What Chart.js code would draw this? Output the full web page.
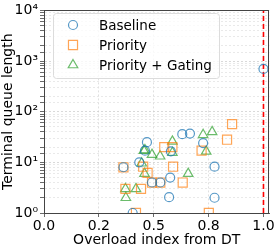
<!DOCTYPE html>
<html>
<head>
<meta charset="utf-8">
<script src="https://cdn.jsdelivr.net/npm/chart.js@4"></script>
<style>
  html, body { margin: 0; padding: 0; background: #fff; }
  #wrap { width: 277px; height: 249px; }
</style>
</head>
<body>
<div id="wrap"><canvas id="chart"></canvas></div>
<script>
// values
let baselineX = [1.0, 0.469, 0.46, 0.434, 0.63, 0.665, 0.725, 0.578, 0.575, 0.57, 0.777, 0.777, 0.492, 0.53, 0.362, 0.404];
let baselineY = [700, 25, 17, 10, 36, 37, 24, 16.5, 5, 2.05, 8.2, 2, 4, 4, 8, 1];

let priorityX = [0.857, 0.834, 0.718, 0.548, 0.585, 0.588, 0.452, 0.472, 0.362, 0.492, 0.53, 0.632, 0.371, 0.442, 0.419, 0.751];
let priorityY = [57, 28, 17, 20, 20, 8.2, 8.2, 6.2, 8, 4, 4, 4, 3, 3, 1, 1];

let gatingX = [0.766, 0.725, 0.739, 0.585, 0.585, 0.455, 0.46, 0.492, 0.529, 0.445, 0.458, 0.657, 0.371, 0.419, 0.373];
let gatingY = [40, 35, 16.5, 26, 15.5, 17, 17.5, 14.2, 13.2, 9.6, 6, 6, 3, 3, 2];

let dtLineX = [1.0, 1.0];
let dtLineY = [1, 10000];

let xTickValues = [0, 0.25, 0.5, 0.75, 1.0];
let xTickLabels = ['0.0', '0.2', '0.5', '0.8', '1.0'];
let yTickLabels = { 1: '10⁰', 10: '10¹', 100: '10²', 1000: '10³', 10000: '10⁴' };

const FONT = 'DejaVu Sans';

function toPoints(xs, ys) {
    return xs.map((x, i) => ({ x: x, y: ys[i] }));
}

function isDecade(v) {
    let l = Math.log10(v);
    return Math.abs(l - Math.round(l)) < 1e-9;
}

// legend box + plot frame, drawn like matplotlib
const framePlugin = {
    id: 'frame',
    afterDraw(chart) {
        const ctx = chart.ctx;
        const a = chart.chartArea;
        ctx.save();
        ctx.strokeStyle = '#444';
        ctx.lineWidth = 1;
        ctx.strokeRect(Math.round(a.left) + 0.5, Math.round(a.top) + 0.5,
            Math.round(a.right - a.left) - 1, Math.round(a.bottom - a.top));

        // legend
        const lx = 53, ly = 13, lw = 166, lh = 65;
        ctx.beginPath();
        ctx.roundRect(lx + 0.5, ly + 0.5, lw, lh, 3);
        ctx.fillStyle = 'rgba(255,255,255,0.8)';
        ctx.fill();
        ctx.strokeStyle = '#dcdcdc';
        ctx.stroke();

        const names = ['Baseline', 'Priority', 'Priority + Gating'];
        ctx.font = '13.5px "' + FONT + '"';
        ctx.textBaseline = 'middle';
        for (let i = 0; i < 3; i++) {
            const ds = chart.data.datasets[i];
            const y = 25 + i * 20;
            ctx.strokeStyle = ds.borderColor;
            ctx.fillStyle = 'rgba(0,0,0,0)';
            ctx.lineWidth = ds.borderWidth;
            Chart.helpers.drawPoint(ctx, {
                pointStyle: ds.pointStyle,
                radius: ds.pointRadius,
                rotation: 0,
                borderWidth: ds.borderWidth
            }, 73, y);
            ctx.fillStyle = '#000';
            ctx.fillText(names[i], 99, y + 1);
        }
        ctx.restore();
    }
};

const ctx = document.getElementById('chart').getContext('2d');
const chart = new Chart(ctx, {
    type: 'scatter',
    data: {
        datasets: [
            {
                label: 'Baseline',
                data: toPoints(baselineX, baselineY),
                pointStyle: 'circle',
                pointRadius: 4.5,
                borderColor: 'rgba(31,119,180,0.75)',
                backgroundColor: 'rgba(0,0,0,0)',
                borderWidth: 1.2,
                clip: 0
            },
            {
                label: 'Priority',
                data: toPoints(priorityX, priorityY),
                pointStyle: 'rect',
                pointRadius: 6.4,
                borderColor: 'rgba(255,127,14,0.7)',
                backgroundColor: 'rgba(0,0,0,0)',
                borderWidth: 1.2,
                clip: 0
            },
            {
                label: 'Priority + Gating',
                data: toPoints(gatingX, gatingY),
                pointStyle: 'triangle',
                pointRadius: 5.5,
                borderColor: 'rgba(44,160,44,0.7)',
                backgroundColor: 'rgba(0,0,0,0)',
                borderWidth: 1.2,
                clip: 0
            },
            {
                type: 'line',
                label: 'DT',
                data: toPoints(dtLineX, dtLineY),
                borderColor: '#ff0000',
                borderDash: [5, 3],
                borderWidth: 1.6,
                pointRadius: 0,
                showLine: true,
                clip: 0
            }
        ]
    },
    options: {
        responsive: true,
        maintainAspectRatio: false,
        animation: false,
        events: [],
        layout: { padding: { top: 7, right: 6, left: 0, bottom: 0 } },
        plugins: {
            legend: { display: false },
            tooltip: { enabled: false }
        },
        scales: {
            x: {
                type: 'linear',
                min: 0,
                max: 1.027,
                afterBuildTicks(scale) {
                    scale.ticks = xTickValues.map(v => ({ value: v }));
                },
                afterFit(scale) { scale.height = 36; },
                ticks: {
                    autoSkip: false,
                    maxRotation: 0,
                    padding: 1,
                    color: '#000',
                    font: { family: FONT, size: 14 },
                    callback: (v, i) => xTickLabels[i]
                },
                grid: {
                    color: '#d9d9d9',
                    tickColor: '#444',
                    tickLength: 4,
                    lineWidth: 0.8
                },
                border: { display: true, color: '#444', dash: [2, 2] },
                title: {
                    display: true,
                    text: 'Overload index from DT',
                    color: '#000',
                    font: { family: FONT, size: 14 },
                    padding: { top: 0, bottom: 0 }
                }
            },
            y: {
                type: 'logarithmic',
                min: 1,
                max: 10000,
                afterFit(scale) { scale.width = 44; },
                ticks: {
                    autoSkip: false,
                    padding: 2,
                    color: '#000',
                    font: { family: FONT, size: 14 },
                    callback: v => yTickLabels[v] || ''
                },
                grid: {
                    color: c => isDecade(c.tick.value) ? '#d0d0d0' : '#e4e4e4',
                    tickColor: '#444',
                    tickLength: 4,
                    lineWidth: 0.8
                },
                border: { display: true, color: '#444', dash: [2, 2] },
                title: {
                    display: true,
                    text: 'Terminal queue length',
                    color: '#000',
                    font: { family: FONT, size: 14 },
                    padding: { top: 0, bottom: 0 }
                }
            }
        }
    },
    plugins: [framePlugin]
});
</script>
</body>
</html>
